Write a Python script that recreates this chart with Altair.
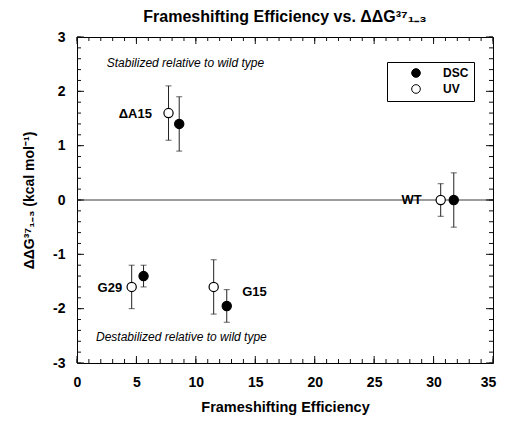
import altair as alt
import pandas as pd

# ---- data ----
names   = ["ΔA15", "ΔA15", "WT", "WT", "G29", "G29", "G15", "G15"]
methods = ["UV", "DSC", "UV", "DSC", "UV", "DSC", "UV", "DSC"]
eff     = [7.7, 8.6, 30.6, 31.7, 4.6, 5.6, 11.5, 12.6]
ddg     = [1.6, 1.4, 0.0, 0.0, -1.6, -1.4, -1.6, -1.95]
err     = [0.5, 0.5, 0.3, 0.5, 0.4, 0.2, 0.5, 0.3]

label_text  = ["ΔA15", "G29", "G15", "WT"]
label_x     = [6.3, 3.8, 13.9, 29.0]
label_y     = [1.58, -1.62, -1.7, 0.0]
label_align = ["right", "right", "left", "right"]

note_text = ["Stabilized relative to wild type", "Destabilized relative to wild type"]
note_x    = [2.5, 1.6]
note_y    = [2.52, -2.52]

x_major = [0, 5, 10, 15, 20, 25, 30, 35]
x_minor = list(range(0, 36))
y_major = [-3, -2, -1, 0, 1, 2, 3]
y_minor = [round(-3 + 0.2 * i, 1) for i in range(31)]
zero_line = [0]

W, H = 416, 326
MAJ, MIN = 7, 4

df = pd.DataFrame({"name": names, "method": methods, "x": eff, "y": ddg, "err": err})
df["lo"] = df["y"] - df["err"]
df["hi"] = df["y"] + df["err"]
labels = pd.DataFrame({"t": label_text, "x": label_x, "y": label_y, "a": label_align})
notes = pd.DataFrame({"t": note_text, "x": note_x, "y": note_y})
xt_major = pd.DataFrame({"v": x_major})
xt_minor = pd.DataFrame({"v": x_minor})
yt_major = pd.DataFrame({"v": y_major})
yt_minor = pd.DataFrame({"v": y_minor})

FONT = "Liberation Sans"
xs = alt.Scale(domain=[0, 35], nice=False, zero=False)
ys = alt.Scale(domain=[-3, 3], nice=False, zero=False)
TC = "#111111"
EB = "#222222"

x_main = alt.Axis(orient="bottom", values=x_major, ticks=False, domain=False, grid=False,
                  labelPadding=12, labelFontSize=14, labelFontWeight="bold",
                  labelColor="black", labelFlush=False, labelOverlap=False,
                  labelOffset={"condition": {"test": "datum.value == 35", "value": -5},
                               "value": 0},
                  title="Frameshifting Efficiency", titleFontSize=14.5,
                  titleFontWeight="bold", titleColor="black", titlePadding=11)
y_main = alt.Axis(orient="left", values=y_major, ticks=False, domain=False, grid=False,
                  labelPadding=12, labelFontSize=14, labelFontWeight="bold",
                  labelColor="black", labelFlush=False, labelOverlap=False,
                  labelExpr="'' + datum.value",
                  title="ΔΔG³⁷₁₋₃ (kcal mol⁻¹)", titleFontSize=14,
                  titleFontWeight="bold", titleColor="black", titlePadding=16)


def xticks(frame, y0, y1):
    return alt.Chart(frame).mark_rule(color=TC, strokeWidth=1).encode(
        x=alt.X("v:Q", scale=xs, axis=None), y=alt.value(y0), y2=alt.value(y1))


def yticks(frame, x0, x1):
    return alt.Chart(frame).mark_rule(color=TC, strokeWidth=1).encode(
        y=alt.Y("v:Q", scale=ys, axis=None), x=alt.value(x0), x2=alt.value(x1))


tick_layers = [
    xticks(xt_major, H, H - MAJ), xticks(xt_minor, H, H - MIN),
    xticks(xt_major, 0, MAJ), xticks(xt_minor, 0, MIN),
    yticks(yt_major, 0, MAJ), yticks(yt_minor, 0, MIN),
    yticks(yt_major, W, W - MAJ), yticks(yt_minor, W, W - MIN),
]

base = alt.Chart(df)

bars = base.mark_rule(color=EB, strokeWidth=1).encode(
    x=alt.X("x:Q", scale=xs, axis=x_main),
    y=alt.Y("lo:Q", scale=ys, axis=y_main),
    y2="hi:Q",
)

zero = alt.Chart(pd.DataFrame({"z": zero_line})).mark_rule(
    color="#3a3a3a", strokeWidth=1
).encode(y=alt.Y("z:Q", scale=ys, axis=None))

cap_lo = base.mark_tick(orient="horizontal", size=6, thickness=1, color=EB).encode(
    x=alt.X("x:Q", scale=xs, axis=None),
    y=alt.Y("lo:Q", scale=ys, axis=None),
)

cap_hi = base.mark_tick(orient="horizontal", size=6, thickness=1, color=EB).encode(
    x=alt.X("x:Q", scale=xs, axis=None),
    y=alt.Y("hi:Q", scale=ys, axis=None),
)

pts = base.mark_point(shape="circle", size=85, filled=True, stroke="black",
                      strokeWidth=1.2, opacity=1).encode(
    x=alt.X("x:Q", scale=xs, axis=None),
    y=alt.Y("y:Q", scale=ys, axis=None),
    fill=alt.Fill("method:N",
                  scale=alt.Scale(domain=["DSC", "UV"], range=["black", "white"]),
                  legend=alt.Legend(title=None, orient="none", legendX=310, legendY=25,
                                    strokeColor="black", fillColor="white", padding=5,
                                    labelFontSize=12, labelFontWeight="bold",
                                    labelColor="black", symbolType="circle",
                                    symbolSize=75, symbolStrokeColor="black",
                                    symbolStrokeWidth=1, symbolOffset=18,
                                    labelOffset=21, rowPadding=2,
                                    labelExpr="datum.label + '\u00a0\u00a0\u00a0\u00a0\u00a0\u00a0'")),
)

lab_r = alt.Chart(labels).transform_filter("datum.a == 'right'").mark_text(
    align="right", baseline="middle", fontSize=13, fontWeight="bold", color="black"
).encode(x=alt.X("x:Q", scale=xs, axis=None), y=alt.Y("y:Q", scale=ys, axis=None), text="t:N")

lab_l = alt.Chart(labels).transform_filter("datum.a == 'left'").mark_text(
    align="left", baseline="middle", fontSize=13, fontWeight="bold", color="black"
).encode(x=alt.X("x:Q", scale=xs, axis=None), y=alt.Y("y:Q", scale=ys, axis=None), text="t:N")

note = alt.Chart(notes).mark_text(
    align="left", baseline="middle", fontSize=12, fontStyle="italic", color="black"
).encode(x=alt.X("x:Q", scale=xs, axis=None), y=alt.Y("y:Q", scale=ys, axis=None), text="t:N")

chart = alt.layer(bars, zero, *tick_layers, cap_lo, cap_hi, pts, lab_r, lab_l, note).resolve_axis(
    x="independent", y="independent"
).properties(
    width=W, height=H,
    autosize=alt.AutoSizeParams(type="none"),
    padding={"left": 69, "top": 29, "right": 4, "bottom": 52},
    title=alt.TitleParams("Frameshifting Efficiency vs. ΔΔG³⁷₁₋₃", fontSize=16,
                          fontWeight="bold", color="black", anchor="middle", offset=5),
).configure(font=FONT).configure_view(stroke="black", strokeWidth=1)

chart.save("out.html", embed_options={"renderer": "svg", "actions": False})
